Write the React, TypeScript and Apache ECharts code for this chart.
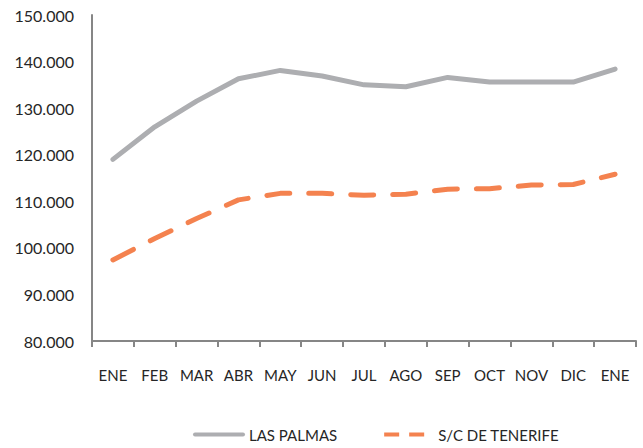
import React, { useEffect, useRef } from "react";
import * as echarts from "echarts";

const categories = ["ENE", "FEB", "MAR", "ABR", "MAY", "JUN", "JUL", "AGO", "SEP", "OCT", "NOV", "DIC", "ENE"];
const lasPalmas = [119000, 126000, 131500, 136300, 138100, 136900, 135000, 134600, 136600, 135600, 135600, 135600, 138400];
const tenerife = [97400, 102000, 106300, 110300, 111700, 111700, 111300, 111500, 112600, 112700, 113500, 113600, 115800];
const seriesNames = ["LAS PALMAS", "S/C DE TENERIFE"];

function fmt(v: number): string {
  const s = Math.round(v).toString();
  return s.replace(/\B(?=(\d{3})+(?!\d))/g, ".");
}

export default function App() {
  const ref = useRef<HTMLDivElement>(null);
  useEffect(() => {
    if (!ref.current) return;
    const chart = echarts.init(ref.current, null, { renderer: "svg" });
    const font = "Lato, 'Open Sans', sans-serif";
    const gray = "#ADAEB1";
    const orange = "#F4824F";
    chart.setOption({
      animation: false,
      backgroundColor: "#ffffff",
      grid: { left: 92, right: 7, top: 15, bottom: 107, containLabel: false },
      legend: {
        top: 427,
        left: 193,
        padding: 0,
        itemWidth: 48,
        itemHeight: 16,
        itemGap: 45,
        itemStyle: { opacity: 0 },
        textStyle: { fontFamily: font, fontSize: 15, color: "#262626", padding: [0, 0, 0, 1] },
        data: [
          { name: seriesNames[0], lineStyle: { width: 4, color: gray, cap: "round" } },
          { name: seriesNames[1], lineStyle: { width: 4, color: orange, type: [15, 10], cap: "butt" } },
        ],
      },
      xAxis: {
        type: "category",
        data: categories,
        boundaryGap: true,
        axisLine: { lineStyle: { color: "#868686", width: 2 } },
        axisTick: { show: true, length: 6, interval: 0, lineStyle: { color: "#868686", width: 2 } },
        axisLabel: { fontFamily: font, fontSize: 15, color: "#262626", margin: 26, interval: 0 },
      },
      yAxis: {
        type: "value",
        min: 80000,
        max: 150000,
        interval: 10000,
        axisLine: { show: true, lineStyle: { color: "#868686", width: 2 } },
        axisTick: { show: false },
        splitLine: { show: false },
        axisLabel: {
          fontFamily: font,
          fontSize: 16,
          color: "#262626",
          margin: 18,
          formatter: (v: number) => fmt(v),
        },
      },
      series: [
        {
          name: seriesNames[0],
          type: "line",
          data: lasPalmas,
          symbol: "none",
          lineStyle: { color: gray, width: 5, cap: "round", join: "round" },
          itemStyle: { color: gray },
        },
        {
          name: seriesNames[1],
          type: "line",
          data: tenerife,
          symbol: "none",
          lineStyle: { color: orange, width: 5, type: [23, 19], cap: "round", join: "round" },
          itemStyle: { color: orange },
        },
      ],
    });
    return () => chart.dispose();
  }, []);
  return <div ref={ref} style={{ position: "fixed", left: 0, top: 0, width: 643, height: 448 }} />;
}
